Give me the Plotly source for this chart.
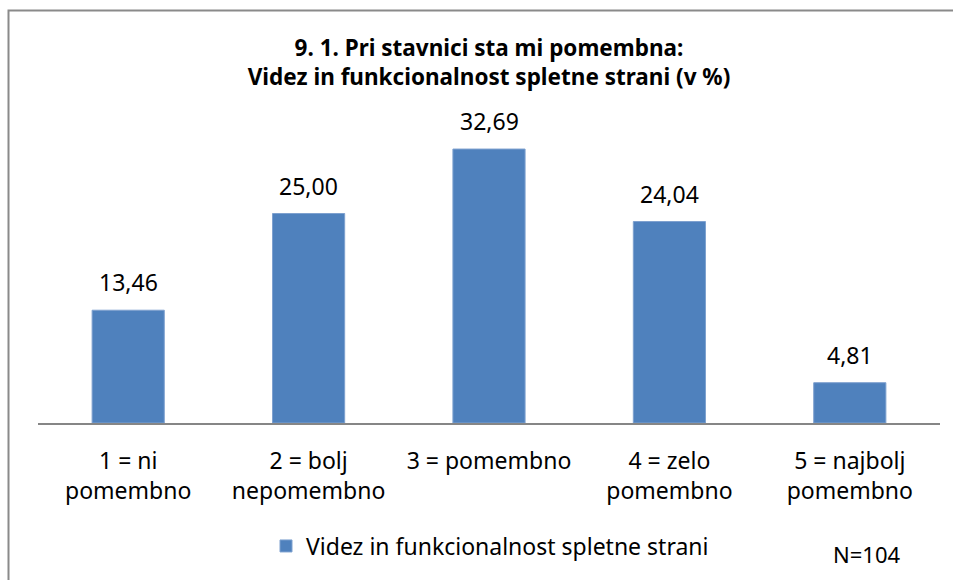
import plotly.graph_objects as go

categories = ["1 = ni<br>pomembno", "2 = bolj<br>nepomembno", "3 = pomembno",
              "4 = zelo<br>pomembno", "5 = najbolj<br>pomembno"]
values = [13.46, 25.00, 32.69, 24.04, 4.81]
value_labels = ["13,46", "25,00", "32,69", "24,04", "4,81"]
series_name = "Videz in funkcionalnost spletne strani"
title_text = "<b>9. 1. Pri stavnici sta mi pomembna:<br>Videz in funkcionalnost spletne strani (v %)</b>"
note_text = "N=104"

W, H = 953, 580
L, R, T, B = 38, 13, 89, 157
plot_w = W - L - R
plot_h = H - T - B

FONT = "Noto Sans"

fig = go.Figure()
fig.add_trace(go.Bar(
    x=categories, y=values, name=series_name,
    marker=dict(color="#4F81BD", line=dict(color="#7EA1CF", width=1)),
    showlegend=True,
))

annotations = []
for c, v, t in zip(categories, values, value_labels):
    annotations.append(dict(x=c, y=v, xref="x", yref="y", text=t, showarrow=False,
                            yanchor="middle", yshift=28,
                            font=dict(family=FONT, size=23, color="#000000")))
annotations.append(dict(x=(866 - L) / plot_w, y=(H - B - 554) / plot_h, xref="paper", yref="paper",
                        text=note_text, showarrow=False, xanchor="center", yanchor="middle",
                        font=dict(family=FONT, size=22, color="#000000")))

fig.update_layout(
    width=W, height=H,
    margin=dict(l=L, r=R, t=T, b=B, autoexpand=False),
    paper_bgcolor="white", plot_bgcolor="white",
    bargap=0.6,
    title=dict(text=title_text, x=0.5, xref="paper", xanchor="center",
               y=1 - 56 / H, yref="container", yanchor="middle",
               font=dict(family=FONT, size=22.5, color="#000000")),
    xaxis=dict(showline=True, linecolor="#868686", linewidth=2, ticks="",
               showgrid=False, zeroline=False, ticklabelstandoff=16,
               tickfont=dict(family=FONT, size=23, color="#000000")),
    yaxis=dict(range=[0, plot_h / 8.38], visible=False, showgrid=False, zeroline=False),
    legend=dict(orientation="h", x=(266 - L) / plot_w, xanchor="left",
                y=(H - B - 546) / plot_h, yanchor="middle",
                font=dict(family=FONT, size=23, color="#000000"),
                bgcolor="rgba(0,0,0,0)"),
    annotations=annotations,
    shapes=[dict(type="rect", xref="paper", yref="paper",
                 x0=(8.5 - L) / plot_w, x1=1.2,
                 y0=-0.8, y1=(H - B - 10.5) / plot_h,
                 line=dict(color="#8A8A8A", width=2), fillcolor="rgba(0,0,0,0)",
                 layer="below")],
)

fig.write_html("out.html", config={"displayModeBar": False},
               post_script="document.body.style.margin='0px';document.body.style.overflow='hidden';")
